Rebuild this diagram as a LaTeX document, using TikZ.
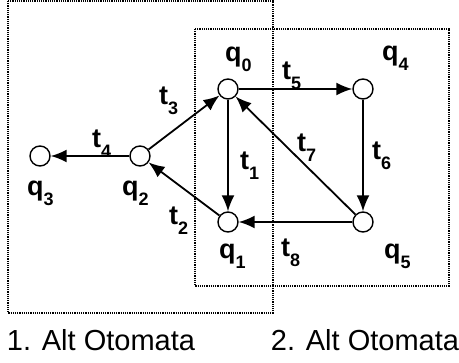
\documentclass[tikz,border=0pt]{standalone}
\usepackage{fontspec}
\setmainfont{Liberation Sans}
\usetikzlibrary{arrows.meta}
\newcommand{\lsub}[2]{#1\raisebox{-10pt}{\fontsize{18}{18}\selectfont #2}}
\tikzset{
	state/.style = {circle, draw, line width = 1.4pt, minimum size = 20pt, inner sep = 0pt},
	lbl/.style = {font = \fontsize{27}{27}\selectfont\bfseries, inner sep = 0pt, anchor = base west},
	trans/.style = {line width = 1.8pt, -{Latex[length = 16pt, width = 13pt]}},
	subbox/.style = {line width = 1.2pt, dash pattern = on 1.2pt off 1pt},
}
\begin{document}
\begin{tikzpicture}[x = 1pt, y = -1pt]
\useasboundingbox (0,0) rectangle (459,363);
% the two sub-automata
\draw[subbox] (8,1) rectangle (273,313);
\draw[subbox] (195,29) rectangle (449,286);
% states
\node[state] (q0) at (228,89) {};
\node[state] (q4) at (363,89) {};
\node[state] (q1) at (228,222) {};
\node[state] (q5) at (363,222) {};
\node[state] (q2) at (140,156) {};
\node[state] (q3) at (40,156) {};
\node[lbl] (lq0) at (225,62) {\lsub{q}{0}};
\node[lbl] (lq4) at (382,61) {\lsub{q}{4}};
\node[lbl] (lq1) at (219,259) {\lsub{q}{1}};
\node[lbl] (lq5) at (384,259) {\lsub{q}{5}};
\node[lbl] (lq2) at (122,196) {\lsub{q}{2}};
\node[lbl] (lq3) at (27,196) {\lsub{q}{3}};
% transitions
\draw[trans] (q0) -- (q4);
\draw[trans] (q4) -- (q5);
\draw[trans] (q5) -- (q1);
\draw[trans] (q5) -- (q0);
\draw[trans] (q0) -- (q1);
\draw[trans] (q1) -- (q2);
\draw[trans] (q2) -- (q0);
\draw[trans] (q2) -- (q3);
\node[lbl] (t1) at (240,170) {\lsub{t}{1}};
\node[lbl] (t2) at (169,225) {\lsub{t}{2}};
\node[lbl] (t3) at (159,105) {\lsub{t}{3}};
\node[lbl] (t4) at (92,148) {\lsub{t}{4}};
\node[lbl] (t5) at (282,80) {\lsub{t}{5}};
\node[lbl] (t6) at (372,160) {\lsub{t}{6}};
\node[lbl] (t7) at (297,152) {\lsub{t}{7}};
\node[lbl] (t8) at (281,257) {\lsub{t}{8}};
% captions
\node[font = \fontsize{29}{29}\selectfont] (cap1) at (101,340) {1. Alt Otomata};
\node[font = \fontsize{29}{29}\selectfont] (cap2) at (365,340) {2. Alt Otomata};
\end{tikzpicture}
\end{document}
